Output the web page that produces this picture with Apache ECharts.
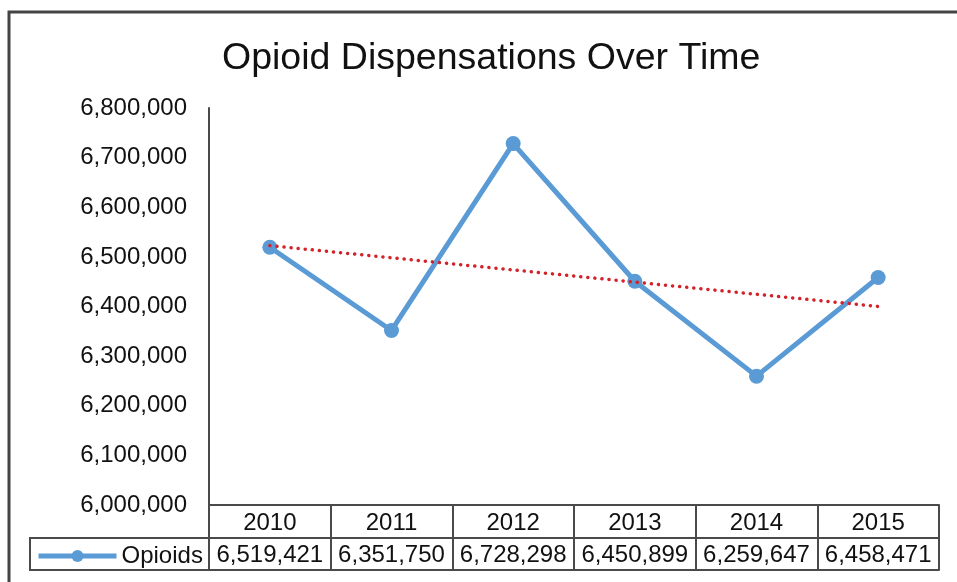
<!DOCTYPE html>
<html>
<head>
<meta charset="utf-8">
<script src="https://cdn.jsdelivr.net/npm/echarts@6/dist/echarts.min.js"></script>
<style>html,body{margin:0;padding:0;background:#fff}#c{width:957px;height:582px}</style>
</head>
<body>
<div id="c"></div>
<script>
var years = ['2010', '2011', '2012', '2013', '2014', '2015'];
var opioids = [6519421, 6351750, 6728298, 6450899, 6259647, 6458471];
// linear trendline end values (2010, 2015)
var trendEnds = [6522700, 6400100];
var yTicks = [6000000, 6100000, 6200000, 6300000, 6400000, 6500000, 6600000, 6700000, 6800000];

var FONT = '"Liberation Sans", Arial, sans-serif';
function fmt(v) { return v.toLocaleString('en-US'); }

var trendData = years.map(function (y, i) {
  if (i === 0) return trendEnds[0];
  if (i === years.length - 1) return trendEnds[1];
  return null;
});

var chart = echarts.init(document.getElementById('c'), null, { renderer: 'canvas' });
var lineColor = '#4a4a4a';
chart.setOption({
  animation: false,
  backgroundColor: '#fff',
  textStyle: { fontFamily: FONT },
  title: {
    text: 'Opioid Dispensations Over Time',
    left: 217, top: 35,
    textStyle: { fontFamily: FONT, fontSize: 37.5, fontWeight: 'normal', color: '#111' }
  },
  legend: {
    data: ['Opioids'],
    left: 31, top: 539,
    itemWidth: 78, itemHeight: 15, itemGap: 1,
    lineStyle: { width: 5 },
    textStyle: { fontFamily: FONT, fontSize: 24, color: '#111' }
  },
  grid: { left: 209, right: 18, top: 108, bottom: 77 },
  xAxis: [
    {
      type: 'category', data: years, position: 'bottom', boundaryGap: true,
      axisLine: { show: true, lineStyle: { color: lineColor, width: 2 } },
      axisTick: { show: true, length: 65, alignWithLabel: false, interval: 0, lineStyle: { color: lineColor, width: 2 } },
      axisLabel: {
        interval: 0, margin: 2,
        formatter: function (v, i) { return '{y|' + v + '}\n{v|' + fmt(opioids[i]) + '}'; },
        rich: {
          y: { fontFamily: FONT, fontSize: 24, lineHeight: 32, color: '#111' },
          v: { fontFamily: FONT, fontSize: 24, lineHeight: 32, color: '#111' }
        }
      }
    },
    {
      type: 'category', data: years, position: 'bottom', offset: 33,
      axisLine: { show: true, lineStyle: { color: lineColor, width: 2 } },
      axisTick: { show: false }, axisLabel: { show: false }
    },
    {
      type: 'category', data: years, position: 'bottom', offset: 65,
      axisLine: { show: true, lineStyle: { color: lineColor, width: 2 } },
      axisTick: { show: false }, axisLabel: { show: false }
    }
  ],
  yAxis: {
    type: 'value', min: yTicks[0], max: yTicks[yTicks.length - 1], interval: 100000,
    axisLine: { show: true, lineStyle: { color: lineColor, width: 2 } },
    axisTick: { show: false },
    splitLine: { show: false },
    axisLabel: {
      margin: 22, fontFamily: FONT, fontSize: 24, color: '#111',
      formatter: function (v) { return fmt(v); }
    }
  },
  graphic: [
    { type: 'rect', shape: { x: 9, y: 12, width: 1000, height: 620 },
      style: { fill: 'none', stroke: '#444', lineWidth: 3 }, silent: true, z: 100 },
    { type: 'rect', shape: { x: 30, y: 538, width: 179, height: 32 },
      style: { fill: 'none', stroke: lineColor, lineWidth: 2 }, silent: true }
  ],
  series: [
    {
      name: 'Opioids', type: 'line', data: opioids,
      symbol: 'circle', symbolSize: 15,
      lineStyle: { color: '#5b9bd5', width: 5 },
      itemStyle: { color: '#5b9bd5' },
      z: 3
    },
    {
      name: 'Trend', type: 'line', data: trendData, connectNulls: true,
      symbol: 'none',
      lineStyle: { color: '#d2232a', width: 3.5, type: [0.1, 7], cap: 'round' },
      z: 4
    }
  ]
});
</script>
</body>
</html>
